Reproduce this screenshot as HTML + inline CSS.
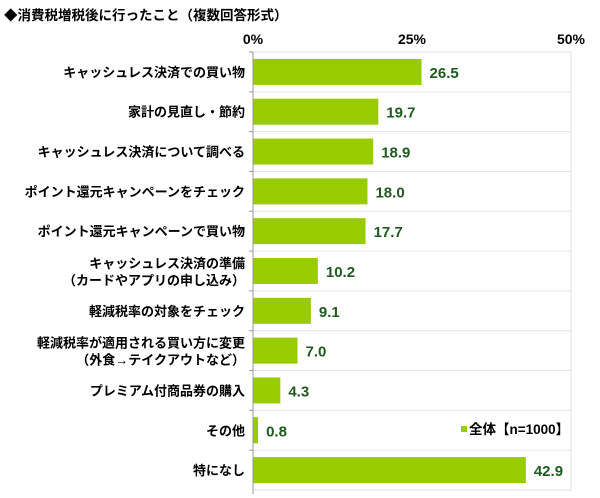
<!DOCTYPE html>
<html><head><meta charset="utf-8"><style>
body{margin:0;background:#fff;width:600px;height:498px;overflow:hidden;font-family:"Liberation Sans","Noto Sans CJK JP",sans-serif}
</style></head><body>
<svg id="c" width="600" height="498" style="position:absolute;left:0;top:0"></svg>
<script>
const categories=[["キャッシュレス決済での買い物"],["家計の見直し・節約"],["キャッシュレス決済について調べる"],["ポイント還元キャンペーンをチェック"],["ポイント還元キャンペーンで買い物"],["キャッシュレス決済の準備","（カードやアプリの申し込み）"],["軽減税率の対象をチェック"],["軽減税率が適用される買い方に変更","（外食→テイクアウトなど）"],["プレミアム付商品券の購入"],["その他"],["特になし"]];
const values=[26.5,19.7,18.9,18.0,17.7,10.2,9.1,7.0,4.3,0.8,42.9];
const ticks=[0,25,50];
const NS="http://www.w3.org/2000/svg",svg=document.getElementById('c');
const L=253,R=571,T=52,B=490,rowH=(B-T)/categories.length;
const x=v=>L+(v/50)*(R-L);
function mk(t,a,txt){const e=document.createElementNS(NS,t);for(const k in a)e.setAttribute(k,a[k]);if(txt!=null)e.textContent=txt;svg.appendChild(e);return e;}
let e=mk('text',{x:4,y:20,'font-size':13.5,'font-weight':'bold',fill:'#000'},'◆消費税増税後に行ったこと（複数回答形式）');

e=mk('rect',{x:L,y:T,width:R-L,height:B-T,fill:'none',stroke:'#e0e0e0'});

ticks.forEach(t=>{const el=mk('text',{x:x(t),y:44,'font-size':14,'font-weight':'bold','text-anchor':'middle'},t+'%');
});
categories.forEach((c,i)=>{
 const y0=T+i*rowH,cy=y0+rowH/2;
 if(i>0){const g=mk('line',{x1:L,x2:R,y1:y0,y2:y0,stroke:'#e6e6e6'});}
 const tk=mk('line',{x1:L-4,x2:L,y1:y0,y2:y0,stroke:'#999'});
 const b=mk('rect',{x:L,y:cy-13,width:x(values[i])-L,height:26,fill:'#99cc00'});
 
 const v=mk('text',{x:x(values[i])+8,y:cy+6,'font-size':15,'font-weight':'bold',fill:'#1e5a1e'},values[i].toFixed(1));
 
 c.forEach((ln,j)=>{const yy=c.length==1?cy+5:cy-3+j*17;
  const t=mk('text',{x:245,y:yy,'font-size':13,'font-weight':'bold','text-anchor':'end'},ln);
  });
});
e=mk('line',{x1:L,x2:L,y1:T,y2:B+4,stroke:'#999'});
e=mk('rect',{x:461,y:426,width:6,height:6,fill:'#99cc00'});
e=mk('text',{x:469,y:434,'font-size':13.5,'font-weight':'bold'},'全体【n=1000】');
</script>
</body></html>
